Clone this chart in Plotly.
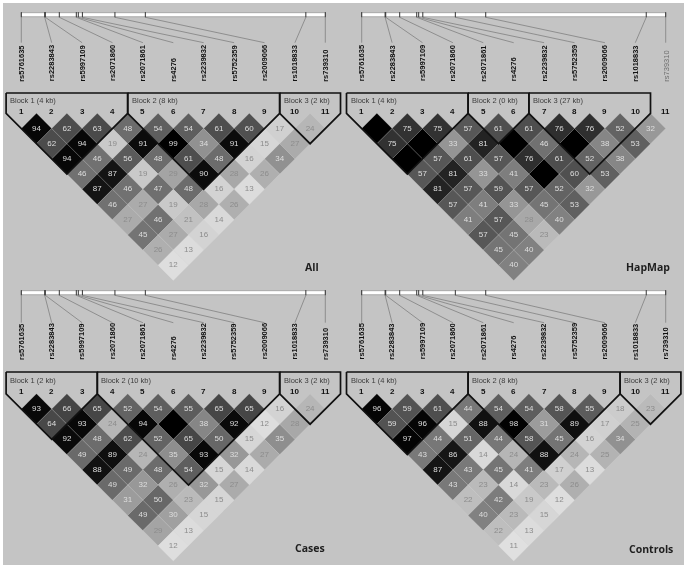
import numpy as np
import plotly.graph_objects as go

W, H = 687, 565
UNIT = 30.4  # pixels between two neighbouring markers

snps = ["rs5761635", "rs2283843", "rs5997109", "rs2071860", "rs2071861", "rs4276",
        "rs2239832", "rs5752359", "rs2009066", "rs1018833", "rs739310"]
# marker positions along the gene bar, on the axis scale
marker_pos = [1, 1.77, 1.79, 2.25, 2.81, 2.875, 3.01, 4.08, 5.08, 10.36, 11]

# r2 values, one list per diagonal of the triangle (100 = black, no number)
ld_all = [[94, 62, 63, 48, 54, 54, 61, 60, 17, 24],
          [62, 94, 19, 91, 99, 34, 91, 15, 27],
          [94, 46, 56, 48, 61, 48, 16, 34],
          [46, 87, 19, 29, 90, 28, 26],
          [87, 46, 47, 48, 16, 13],
          [46, 27, 19, 28, 26],
          [27, 46, 21, 14],
          [45, 27, 16],
          [26, 13],
          [12]]
ld_hapmap = [[100, 75, 75, 57, 61, 61, 76, 76, 52, 32],
             [75, 100, 33, 81, 100, 46, 100, 38, 53],
             [100, 57, 61, 57, 76, 61, 52, 38],
             [57, 81, 33, 41, 100, 60, 53],
             [81, 57, 59, 57, 52, 32],
             [57, 41, 33, 45, 53],
             [41, 57, 28, 40],
             [57, 45, 23],
             [45, 40],
             [40]]
ld_cases = [[93, 66, 65, 52, 54, 55, 65, 65, 16, 24],
            [64, 93, 24, 94, 100, 38, 92, 12, 28],
            [92, 48, 62, 52, 65, 50, 15, 35],
            [49, 89, 24, 35, 93, 32, 27],
            [88, 49, 48, 54, 15, 14],
            [49, 32, 26, 32, 27],
            [31, 50, 23, 15],
            [49, 30, 15],
            [29, 13],
            [12]]
ld_controls = [[96, 59, 61, 44, 54, 54, 58, 55, 18, 23],
               [59, 96, 15, 88, 98, 31, 89, 17, 25],
               [97, 44, 51, 44, 58, 45, 16, 34],
               [43, 86, 14, 24, 88, 24, 25],
               [87, 43, 45, 41, 17, 13],
               [43, 23, 14, 23, 26],
               [22, 42, 19, 12],
               [40, 23, 15],
               [22, 13],
               [11]]

blocks_all = [(1, 4, "Block 1 (4 kb)"), (5, 9, "Block 2 (8 kb)"), (10, 11, "Block 3 (2 kb)")]
blocks_hapmap = [(1, 4, "Block 1 (4 kb)"), (5, 6, "Block 2 (0 kb)"), (7, 10, "Block 3 (27 kb)")]
blocks_cases = [(1, 3, "Block 1 (2 kb)"), (4, 9, "Block 2 (10 kb)"), (10, 11, "Block 3 (2 kb)")]
blocks_controls = [(1, 4, "Block 1 (4 kb)"), (5, 9, "Block 2 (8 kb)"), (10, 11, "Block 3 (2 kb)")]

# grey level for a given r2
grey_r2 = [0, 13, 17, 26, 34, 48, 61, 75, 90, 100]
grey_level = [245, 220, 208, 175, 145, 108, 78, 50, 12, 0]

# name, ld, blocks, left/right/top/bottom of panel, x of marker 1, y of header, name right edge
panels = [
    dict(name="All", ld=ld_all, blocks=blocks_all, box=(0, 343, 0, 280), ox=21.3, oy=113.3, top=93,
         num=111, lab=100, bar=14.7, conn=42.7, rs=82.5, nx=321, ny=267),
    dict(name="HapMap", ld=ld_hapmap, blocks=blocks_hapmap, box=(343, 687, 0, 280), ox=361.7, oy=113.3, top=93,
         num=111, lab=100, bar=14.7, conn=42.7, rs=82.5, nx=672, ny=267),
    dict(name="Cases", ld=ld_cases, blocks=blocks_cases, box=(0, 343, 280, 565), ox=21.3, oy=393.8, top=372,
         num=391, lab=380, bar=292.7, conn=322.7, rs=360.7, nx=327, ny=548),
    dict(name="Controls", ld=ld_controls, blocks=blocks_controls, box=(343, 687, 280, 565), ox=361.7, oy=393.8, top=372,
         num=391, lab=380, bar=292.7, conn=322.7, rs=360.7, nx=675, ny=549),
]

fig = go.Figure()
annotations = []
layout_axes = {}

for k, p in enumerate(panels):
    sfx = "" if k == 0 else str(k + 1)
    xa, ya = "x" + sfx, "y" + sfx
    x0, x1, y0, y1 = p["box"]
    ux = lambda px: 1 + (px - p["ox"]) / UNIT
    uy = lambda px: (px - p["oy"]) / UNIT
    layout_axes["xaxis" + sfx] = dict(domain=[x0 / W, x1 / W], range=[ux(x0), ux(x1)], visible=False,
                                      fixedrange=True, anchor=ya)
    layout_axes["yaxis" + sfx] = dict(domain=[1 - y1 / H, 1 - y0 / H], range=[uy(y1), uy(y0)], visible=False,
                                      fixedrange=True, anchor=xa)

    # gene bar
    bt, bb = uy(p["bar"] - 2), uy(p["bar"] + 2)
    fig.add_trace(go.Scatter(x=[marker_pos[0], marker_pos[-1], marker_pos[-1], marker_pos[0], marker_pos[0]],
                             y=[bt, bt, bb, bb, bt], mode="lines", fill="toself", fillcolor="white",
                             line=dict(color="#8a8a8a", width=0.6), xaxis=xa, yaxis=ya, hoverinfo="skip"))
    tx, ty, cx, cy = [], [], [], []
    for i, m in enumerate(marker_pos):
        tx += [m, m, None]
        ty += [uy(p["bar"] - 2.6), uy(p["bar"] + 2.6), None]
        cx += [m, i + 1, None]
        cy += [uy(p["bar"] + 2.6), uy(p["conn"]), None]
    fig.add_trace(go.Scatter(x=cx, y=cy, mode="lines", line=dict(color="#808080", width=0.8),
                             xaxis=xa, yaxis=ya, hoverinfo="skip"))
    fig.add_trace(go.Scatter(x=tx, y=ty, mode="lines", line=dict(color="#333333", width=1),
                             xaxis=xa, yaxis=ya, hoverinfo="skip"))

    # LD cells
    xs, ys, greys, labels, tcols = [], [], [], [], []
    for d, row in enumerate(p["ld"], start=1):
        for i, v in enumerate(row, start=1):
            xs.append(i + d / 2)
            ys.append(d / 2)
            g = round(float(np.interp(v, grey_r2, grey_level)))
            greys.append(f"rgb({g},{g},{g})")
            labels.append("" if v == 100 else str(v))
            tcols.append("#dedede" if v >= 30 else "#8c8c8c")
    fig.add_trace(go.Scatter(x=xs, y=ys, mode="markers+text", text=labels,
                             textposition="middle center",
                             textfont=dict(family="Liberation Sans", size=8, color=tcols),
                             marker=dict(symbol="diamond", size=UNIT / 1.3, color=greys,
                                         line=dict(color="rgba(225,225,225,0.3)", width=0.5)),
                             xaxis=xa, yaxis=ya, hoverinfo="skip", cliponaxis=False))

    # block outlines
    for a, b, label in p["blocks"]:
        fig.add_trace(go.Scatter(x=[a - 0.5, b + 0.5, b + 0.5, (a + b) / 2, a - 0.5, a - 0.5],
                                 y=[uy(p["top"]), uy(p["top"]), 0, (b - a + 1) / 2, 0, uy(p["top"])],
                                 mode="lines", line=dict(color="#111111", width=1.7),
                                 xaxis=xa, yaxis=ya, hoverinfo="skip", cliponaxis=False))
        annotations.append(dict(x=a - 0.5 + 0.07, y=uy(p["lab"]), xref=xa, yref=ya, text=label,
                                showarrow=False, xanchor="left", yanchor="middle",
                                font=dict(family="Liberation Sans", size=7.5, color="#3c3c3c")))

    # marker numbers and rs labels
    for i, s in enumerate(snps):
        m = i + 1
        annotations.append(dict(x=m, y=uy(p["num"]), xref=xa, yref=ya, text=f"<b>{m}</b>", showarrow=False,
                                font=dict(family="Liberation Sans", size=8, color="#111111")))
        grey_label = p["name"] == "HapMap" and s == "rs739310"
        txt = s if grey_label else f"<b>{s}</b>"
        annotations.append(dict(x=m, y=uy(p["rs"]), xref=xa, yref=ya, text=txt, textangle=-90, showarrow=False,
                                xanchor="center", yanchor="bottom", borderpad=0,
                                font=dict(family="Liberation Sans", size=7.5,
                                          color="#6e6e6e" if grey_label else "#111111")))

    # panel name
    annotations.append(dict(x=ux(p["nx"]), y=uy(p["ny"]), xref=xa, yref=ya, text=f"<b>{p['name']}</b>",
                            showarrow=False, xanchor="right", yanchor="middle",
                            font=dict(family="Open Sans", size=10.5, color="#1e1e1e")))

fig.update_layout(width=W, height=H, margin=dict(l=0, r=0, t=0, b=0), showlegend=False,
                  paper_bgcolor="white", plot_bgcolor="rgba(0,0,0,0)", annotations=annotations,
                  shapes=[dict(type="rect", xref="paper", yref="paper", x0=3 / W, x1=684 / W, y0=0, y1=1 - 3 / H,
                               fillcolor="#c4c4c4", line=dict(width=0), layer="below")],
                  **layout_axes)
# drop the page margin; the filter keeps small text grey instead of colour-fringed
fig.write_html("out.html", config=dict(displayModeBar=False),
               post_script="document.body.style.margin='0';document.body.style.overflow='hidden';"
                           "document.body.style.filter='grayscale(1) blur(0.3px)';")
